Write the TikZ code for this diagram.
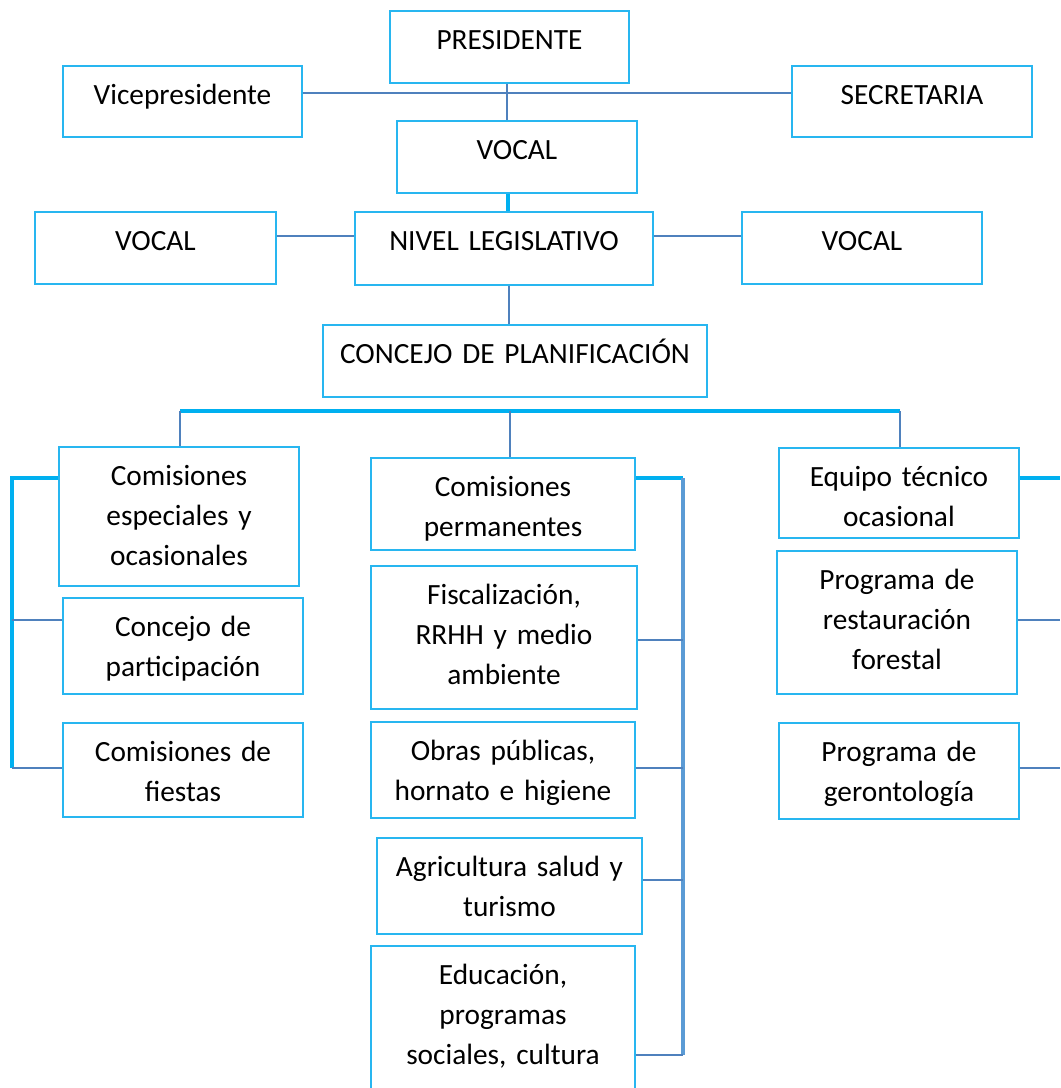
\documentclass[tikz,border=0pt]{standalone}
\usepackage{fontspec}
\setmainfont{Carlito}
\usetikzlibrary{fit,calc}
\definecolor{boxblue}{RGB}{40,182,240}
\definecolor{thickcyan}{RGB}{0,176,240}
\definecolor{linkblue}{RGB}{79,129,189}
\definecolor{spineblue}{RGB}{91,155,213}
\tikzset{
  orgbox/.style={draw=boxblue,line width=1.1pt,fill=white,inner sep=0pt},
  orgtext/.style={font=\fontsize{22}{30}\selectfont,text width=320pt,align=center,inner sep=0pt,anchor=base},
  thinlink/.style={draw=linkblue,line width=1.4pt},
  thicklink/.style={draw=thickcyan,line width=3pt},
  spine/.style={draw=spineblue,line width=2.4pt}
}
% \orgunit{name}{x1}{y1}{x2}{y2}{label}: framed box with its label set from the top
\newcommand\orgunit[6]{%
  \node[orgbox,fit={(#2,#3) (#4,#5)}] (#1) {};
  \node[orgtext] (#1-lbl) at ($(#1.north)+(0,39)$) {#6};
}
\begin{document}
\begin{tikzpicture}[x=0.75pt,y=-0.75pt]
\useasboundingbox (0,0) rectangle (1060,1088);

% connectors drawn first, boxes on top
\coordinate (busL) at (180,411);
\coordinate (busM) at (510,411);
\coordinate (busR) at (900,411);
\coordinate (leftspine) at (12,478);
\coordinate (midspine) at (683,478);
\coordinate (rightedge) at (1060,478);

% top level
\orgunit{pres}{390}{11}{629}{83}{PRESIDENTE}
\orgunit{vice}{63}{66}{302}{137}{Vicepresidente}
\orgunit{secr}{792}{66}{1032}{137}{SECRETARIA}
\orgunit{vocaltop}{397}{121}{637}{193}{VOCAL}
\orgunit{vocalL}{35}{212}{276}{284}{VOCAL}
\orgunit{nivel}{355}{212}{653}{285}{NIVEL LEGISLATIVO}
\orgunit{vocalR}{742}{212}{982}{284}{VOCAL}
\orgunit{concejo}{323}{325}{707}{397}{CONCEJO DE PLANIFICACIÓN}

% left column
\orgunit{esp}{59}{447}{299}{586}{Comisiones\\especiales y\\ocasionales}
\orgunit{part}{63}{598}{303}{694}{Concejo de\\participación}
\orgunit{fiestas}{63}{723}{303}{817}{Comisiones de\\fiestas}

% middle column
\orgunit{perm}{371}{458}{635}{550}{Comisiones\\permanentes}
\orgunit{fisc}{371}{566}{637}{709}{Fiscalización,\\RRHH y medio\\ambiente}
\orgunit{obras}{371}{722}{635}{818}{Obras públicas,\\hornato e higiene}
\orgunit{agri}{377}{838}{642}{934}{Agricultura salud y\\turismo}
\orgunit{educ}{371}{946}{635}{1110}{Educación,\\programas\\sociales, cultura}

% right column
\orgunit{equipo}{779}{448}{1019}{538}{Equipo técnico\\ocasional}
\orgunit{rest}{777}{551}{1017}{694}{Programa de\\restauración\\forestal}
\orgunit{geron}{779}{723}{1019}{819}{Programa de\\gerontología}

% upper links
\draw[thinlink] (vice.east |- 0,93) -- (secr.west |- 0,93);
\draw[thinlink] (pres.south -| 507,0) -- (vocaltop.north -| 507,0);
\draw[thicklink] (vocaltop.south -| 508,0) -- (nivel.north -| 508,0);
\draw[thinlink] (vocalL.east |- 0,236) -- (nivel.west |- 0,236);
\draw[thinlink] (nivel.east |- 0,236) -- (vocalR.west |- 0,236);
\draw[thinlink] (nivel.south -| 509,0) -- (concejo.north -| 509,0);

% distribution bus
\draw[thicklink] (busL) -- (busR);
\draw[thinlink] (busL) -- (busL |- esp.north);
\draw[thinlink] (busM) -- (busM |- perm.north);
\draw[thinlink] (busR) -- (busR |- equipo.north);

% left bracket
\draw[thicklink,line join=miter] (esp.west |- leftspine) -- (leftspine) -- (leftspine |- 0,768);
\draw[thinlink] (leftspine |- 0,620) -- (part.west |- 0,620);
\draw[thinlink] (leftspine |- 0,768) -- (fiestas.west |- 0,768);

% middle bracket
\draw[thicklink] (perm.east |- midspine) -- (midspine);
\draw[spine] (midspine) -- (midspine |- 0,1055);
\draw[thinlink] (fisc.east |- 0,640) -- (midspine |- 0,640);
\draw[thinlink] (obras.east |- 0,768) -- (midspine |- 0,768);
\draw[thinlink] (agri.east |- 0,880) -- (midspine |- 0,880);
\draw[thinlink] (educ.east |- 0,1055) -- (midspine |- 0,1055);

% right bracket
\draw[thicklink] (equipo.east |- rightedge) -- (rightedge);
\draw[thinlink] (rest.east |- 0,620) -- (rightedge |- 0,620);
\draw[thinlink] (geron.east |- 0,768) -- (rightedge |- 0,768);
\end{tikzpicture}
\end{document}
